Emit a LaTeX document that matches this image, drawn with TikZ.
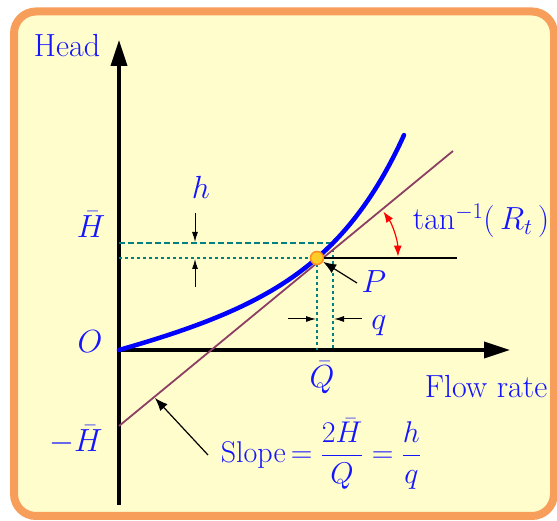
\documentclass[tikz,border=0pt]{standalone}
\usepackage{fix-cm}
\usepackage{amsmath}
\usepackage{fontspec}
\usetikzlibrary{arrows.meta,positioning,calc}
\definecolor{frameorange}{RGB}{246,158,90}
\definecolor{paleyellow}{RGB}{255,253,204}
\definecolor{labelblue}{RGB}{20,20,255}
\definecolor{dashteal}{RGB}{0,128,128}
\definecolor{tangentmaroon}{RGB}{140,62,100}
\definecolor{pointorange}{RGB}{255,140,30}
\definecolor{pointyellow}{RGB}{255,205,40}

\tikzset{
  lbl/.style={text=labelblue, font=\fontsize{32}{36}\selectfont, inner sep=0pt},
  axisline/.style={line width=3.5pt, -{Triangle[length=26pt,width=16pt]}},
  curve/.style={blue, line width=4.5pt, line cap=round},
  tangent/.style={tangentmaroon, line width=1.8pt},
  guidedash/.style={dashteal, line width=1.8pt, dash pattern=on 6pt off 3pt},
  guidedot/.style={dashteal, line width=1.3pt, dash pattern=on 3pt off 3pt},
  smallarrow/.style={line width=1pt, -{Latex[length=10pt,width=6pt]}},
  pointer/.style={line width=1.2pt, -{Latex[length=13pt,width=10pt]}},
  anglearrow/.style={red, line width=1.2pt, {Latex[length=11pt,width=8pt]}-{Latex[length=11pt,width=8pt]}}
}

\begin{document}
\begin{tikzpicture}[x=1pt,y=1pt]
  \useasboundingbox (0,0) rectangle (557,521);

  % Frame
  \draw[line width=8pt, draw=frameorange, fill=paleyellow, rounded corners=22pt] (14,5) rectangle (554,509.5);

  % Axes
  \coordinate (O) at (119,171);
  \coordinate (ybot) at (119,16);
  \coordinate (ytop) at (119,481);
  \coordinate (xend) at (510,171);
  \draw[axisline] (ybot) -- (ytop);
  \draw[axisline] (O) -- (xend);

  % Guide lines
  \coordinate (P) at (317,263);
  \coordinate (Hq) at (333,278);
  \coordinate (Hy) at (119,278);
  \coordinate (Py) at (119,263);
  \coordinate (Px) at (317,171);
  \coordinate (Hx) at (333,171);
  \draw[guidedash] (Hy) -- (Hq);
  \draw[guidedot] (Py) -- (P);
  \draw[guidedot] (P) -- (Px);
  \draw[guidedot] (Hq) -- (Hx);

  % Tangent line
  \coordinate (tlow) at (119,95);
  \coordinate (thigh) at (453,370);
  \draw[tangent] (tlow) -- (thigh);

  % Curve
  \draw[curve] plot[domain=0:285, samples=80, smooth] ({119+\x},{171+0.237*\x+3.716*(exp(0.013*\x)-1)});

  % Operating point
  \node[circle, draw=pointorange, fill=pointyellow, line width=1.5pt, minimum size=13pt, inner sep=0pt] (Pdot) at (P) {};
  \coordinate (hend) at (457,263);
  \draw[line width=1.2pt] (Pdot) -- (hend);

  % Angle
  \draw[anglearrow] ($(P)+(35:81)$) arc[start angle=35, end angle=1, radius=81];

  % h and q markers
  \coordinate (hatop) at (195,308);
  \coordinate (hatip) at (195,279);
  \coordinate (hbbot) at (195,234);
  \coordinate (hbtip) at (195,262);
  \draw[smallarrow] (hatop) -- (hatip);
  \draw[smallarrow] (hbbot) -- (hbtip);
  \coordinate (qaleft) at (288,202);
  \coordinate (qatip) at (316,202);
  \coordinate (qbright) at (362,202);
  \coordinate (qbtip) at (334,202);
  \draw[smallarrow] (qaleft) -- (qatip);
  \draw[smallarrow] (qbright) -- (qbtip);

  % Labels
  \node[lbl, anchor=base] (head) at (67,464) {Head};
  \node[lbl, anchor=base] (Hbar) at (91,283) {$\bar{H}$};
  \node[lbl, anchor=base] (Olbl) at (90,168) {$O$};
  \node[lbl, anchor=base] (mHbar) at (76,69) {$-\bar{H}$};
  \node[lbl, anchor=base] (hlbl) at (201,322) {$h$};
  \node[lbl, anchor=base] (Plbl) at (374,228) {$P$};
  \node[lbl, anchor=base] (qlbl) at (379,191) {$q$};
  \node[lbl, anchor=base] (Qbar) at (322,133) {$\bar{Q}$};
  \node[lbl, anchor=base] (flow) at (486,123) {Flow rate};
  \node[lbl, anchor=base] (tanlbl) at (481,291) {$\tan^{-1}(\,R_t\,)$};
  \node[lbl, anchor=base, font=\fontsize{30}{34}\selectfont] (slope) at (321,58) {Slope$\,=\dfrac{2\bar{H}}{Q}=\dfrac{h}{q}$};

  % Pointers
  \coordinate (Ptail) at (357,238);
  \draw[pointer] (Ptail) -- (Pdot);
  \coordinate (stail) at (208,66);
  \coordinate (stip) at (155,123);
  \draw[pointer] (stail) -- (stip);
\end{tikzpicture}
\end{document}
